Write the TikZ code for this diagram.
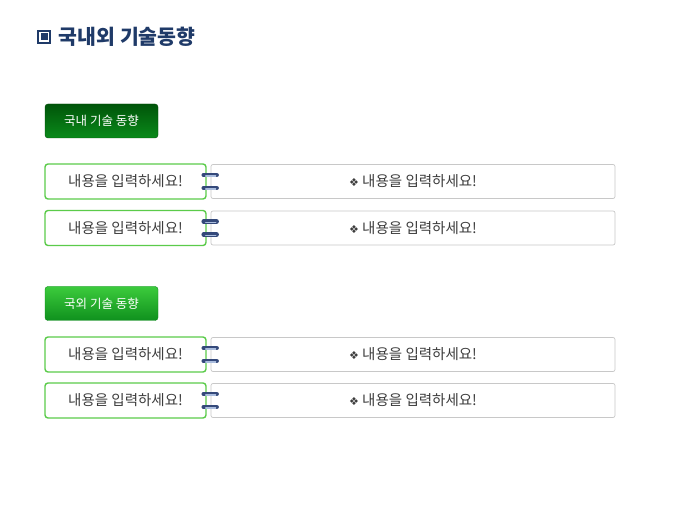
\documentclass[tikz,border=0pt]{standalone}
\usepackage{fontspec}
\setmainfont{Noto Sans CJK KR}
\newfontfamily\symfont{DejaVu Sans}
\usetikzlibrary{positioning}

\definecolor{navy}{HTML}{1F3A68}
\definecolor{darkgreen}{HTML}{006A0C}
\definecolor{midgreen}{HTML}{0A8A1A}
\definecolor{lightgreen}{HTML}{3CCB3C}
\definecolor{boxgreen}{HTML}{5BCB4A}
\definecolor{boxgray}{HTML}{C8C8C8}
\definecolor{textgray}{HTML}{3C3C3C}
\definecolor{tabdark}{HTML}{34497A}
\definecolor{tablight}{HTML}{A9BCDD}

\tikzset{
  headbox/.style={rounded corners=3pt, minimum width=113pt, minimum height=34pt,
    text=white, font=\fontsize{12.5}{14}\selectfont, inner sep=0pt},
  itembox/.style={draw=boxgreen, line width=1.4pt, rounded corners=3pt, fill=white,
    minimum width=161pt, minimum height=35pt, text=textgray,
    font=\fontsize{14.5}{16}\selectfont, inner sep=0pt},
  descbox/.style={draw=boxgray, line width=0.7pt, rounded corners=2pt, fill=white,
    minimum width=404pt, minimum height=34pt, text=textgray,
    font=\fontsize{14.5}{16}\selectfont, inner sep=0pt},
  tab/.style={line width=4.5pt, line cap=round, tabdark},
  tabshine/.style={line width=1.5pt, line cap=round, tablight}
}

\begin{document}
\begin{tikzpicture}[x=1pt,y=-1pt]
  \useasboundingbox[fill=white] (0,0) rectangle (680,510);

  % title
  \node[draw=navy, line width=1.2pt, minimum size=12pt, inner sep=0pt] (icon) at (44,37) {};
  \fill[navy] (icon.center) ++(-3.5,-3.5) rectangle ++(7,7);
  \node[right=8pt of icon, inner sep=0pt, text=navy, font=\fontsize{20.5}{22}\selectfont\bfseries] (title) {국내외 기술동향};

  % headers
  \node[headbox, top color=darkgreen!80!black, bottom color=midgreen, draw=darkgreen!70!black] (head1) at (101.5,121) {국내 기술 동향};
  \node[headbox, top color=lightgreen, bottom color=midgreen!90!lightgreen, draw=midgreen] (head2) at (101.5,303.5) {국외 기술 동향};

  % rows
  \foreach \i/\y in {1/181.5, 2/228, 3/354.5, 4/400.5} {
    \node[descbox] (desc\i) at (413,\y) {{\symfont\fontsize{11}{13}\selectfont ❖} 내용을 입력하세요!};
    \node[itembox] (item\i) at (125.5,\y) {내용을 입력하세요!};
    \foreach \dy in {-6.5, 6.5} {
      \draw[tab] ([xshift=-3pt,yshift=\dy]item\i.east) -- ([xshift=6pt,yshift=\dy]desc\i.west);
      \draw[tabshine] ([xshift=-1pt,yshift=\dy-0.9]item\i.east) -- ([xshift=5pt,yshift=\dy-0.9]desc\i.west);
    }
  }

\end{tikzpicture}
\end{document}
